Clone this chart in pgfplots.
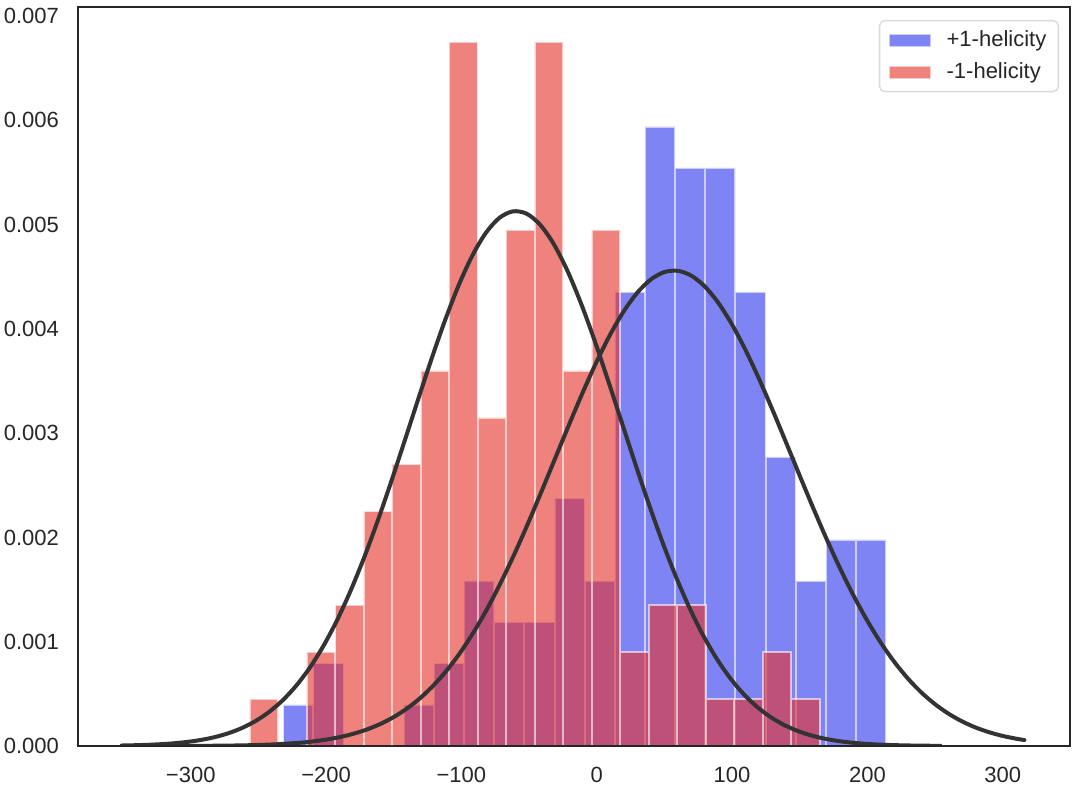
\documentclass[border=0pt]{standalone}
\usepackage{fontspec}
\setmainfont{Liberation Sans}
\usepackage{pgfplots}
\pgfplotsset{compat=1.18}
\definecolor{txt}{RGB}{38,38,38}
\definecolor{bluebar}{RGB}{0,10,235}
\definecolor{redbar}{RGB}{230,47,38}
\definecolor{fitc}{RGB}{51,51,51}
\definecolor{legbord}{RGB}{218,218,218}
\pgfplotsset{patchlegend/.style={legend image code/.code={\draw[#1, sharp corners] (0pt,-3.2pt) rectangle (21pt,3.2pt); \path (26.5pt,0pt);}}}
\begin{document}
\begin{tikzpicture}
\begin{axis}[name=ax, scale only axis, width=496pt, height=369.5pt,
  xmin=-383.3, xmax=349.7, ymin=0, ymax=0.0070875,
  axis line style={txt, line width=1.25pt},
  xtick={-300,-200,-100,0,100,200,300},
  xticklabels={−300,−200,−100,0,100,200,300},
  ytick={0,0.001,0.002,0.003,0.004,0.005,0.006,0.007},
  scaled y ticks=false,
  yticklabel style={/pgf/number format/fixed, /pgf/number format/fixed zerofill, /pgf/number format/precision=3, xshift=-6pt},
  xticklabel style={yshift=-7pt},
  major tick length=0pt,
  tick label style={font=\fontsize{11}{13}\selectfont, text=txt},
  /pgf/number format/assume math mode=true,
  axis on top,
  legend cell align=left,
  legend style={at={(1,1)}, anchor=north east, xshift=-5.5pt, yshift=-6.5pt,
    draw=legbord, line width=0.7pt, rounded corners=2.5pt, fill=white,
    font=\fontsize{11}{13}\selectfont, text=txt, inner xsep=4pt, inner ysep=3pt,
    row sep=2.5pt},
  patchlegend,
]
\addplot[ybar interval, fill=bluebar, fill opacity=0.5, draw=white, draw opacity=0.6, line width=1pt]
coordinates {
(-231.6,0.000396) (-209.3,0.000792) (-187.1,0) (-164.8,0) (-142.5,0.000396)
(-120.3,0.000792) (-98.0,0.001584) (-75.7,0.001188) (-53.4,0.001188) (-31.2,0.002376)
(-8.9,0.001584) (13.4,0.004356) (35.6,0.005940) (57.9,0.005544) (80.2,0.005544)
(102.5,0.004356) (124.7,0.002772) (147.0,0.001584) (169.3,0.001980) (191.5,0.001980)
(213.8,0)
};
\addlegendentry{+1-helicity}
\addplot[ybar interval, fill=redbar, fill opacity=0.6, draw=white, draw opacity=0.6, line width=1pt]
coordinates {
(-256.4,0.00045) (-235.3,0) (-214.3,0.00090) (-193.2,0.00135) (-172.2,0.00225)
(-151.1,0.00270) (-130.1,0.00360) (-109.0,0.00675) (-88.0,0.00315) (-66.9,0.00495)
(-45.9,0.00675) (-24.8,0.00360) (-3.7,0.00495) (17.3,0.00090) (38.4,0.00135)
(59.4,0.00135) (80.5,0.00045) (101.5,0.00045) (122.6,0.00090) (143.6,0.00045)
(164.7,0)
};
\addlegendentry{-1-helicity}
\addplot[fitc, line width=2pt, smooth, no markers, line join=round, line cap=round] coordinates {
(-334,2.1e-7) (-320,4.25e-7) (-300,1.11e-6) (-280,2.74e-6) (-260,6.43e-6) (-240,1.436e-5)
(-220,3.04e-5) (-210,4.34e-5) (-200,6.11e-5) (-190,8.48e-5) (-180,1.164e-4) (-170,1.576e-4)
(-160,2.106e-4) (-150,2.778e-4) (-140,3.616e-4) (-130,4.646e-4) (-120,5.894e-4) (-110,7.379e-4)
(-100,9.119e-4) (-90,1.1120e-3) (-80,1.3386e-3) (-70,1.5904e-3) (-60,1.8651e-3) (-50,2.1589e-3)
(-40,2.4666e-3) (-30,2.7816e-3) (-20,3.0961e-3) (-10,3.4013e-3) (0,3.6880e-3) (10,3.9474e-3)
(20,4.1700e-3) (30,4.3480e-3) (40,4.4747e-3) (50,4.5454e-3) (60,4.5573e-3) (70,4.5100e-3)
(80,4.4051e-3) (90,4.2470e-3) (100,4.0413e-3) (110,3.7957e-3) (120,3.5189e-3) (130,3.2197e-3)
(140,2.9078e-3) (150,2.5921e-3) (160,2.2807e-3) (170,1.9807e-3) (180,1.6978e-3) (190,1.4363e-3)
(200,1.1995e-3) (210,9.886e-4) (220,8.043e-4) (230,6.458e-4) (240,5.118e-4) (250,4.004e-4)
(260,3.092e-4) (270,2.356e-4) (280,1.772e-4) (290,1.316e-4) (300,9.64e-5) (310,6.98e-5) (316,5.71e-5)
};
\addplot[fitc, line width=2pt, smooth, no markers, line join=round, line cap=round] coordinates {
(-351,4.6e-6) (-344,6.40e-6) (-332,1.113e-5) (-322,1.732e-5) (-312,2.649e-5) (-302,3.985e-5)
(-292,5.90e-5) (-282,8.59e-5) (-272,1.231e-4) (-262,1.734e-4) (-252,2.403e-4) (-242,3.276e-4)
(-232,4.392e-4) (-222,5.791e-4) (-212,7.513e-4) (-202,9.586e-4) (-192,1.2031e-3) (-182,1.4852e-3)
(-172,1.8034e-3) (-162,2.1537e-3) (-152,2.5303e-3) (-142,2.9239e-3) (-132,3.3231e-3) (-122,3.7151e-3)
(-112,4.0854e-3) (-102,4.4190e-3) (-92,4.7014e-3) (-82,4.9199e-3) (-72,5.0642e-3) (-62,5.1273e-3)
(-52,5.1062e-3) (-42,5.0018e-3) (-32,4.8193e-3) (-22,4.5674e-3) (-12,4.2577e-3) (-2,3.9038e-3)
(8,3.5209e-3) (18,3.1236e-3) (28,2.7255e-3) (38,2.3393e-3) (48,1.9748e-3) (58,1.6400e-3)
(68,1.3394e-3) (78,1.0761e-3) (88,8.504e-4) (98,6.610e-4) (108,5.054e-4) (118,3.801e-4)
(128,2.812e-4) (138,2.046e-4) (148,1.464e-4) (158,1.030e-4) (168,7.13e-5) (178,4.86e-5)
(188,3.26e-5) (198,2.14e-5) (208,1.39e-5) (218,8.9e-6) (228,5.6e-6) (238,3.4e-6) (248,2.1e-6) (254,1.6e-6)
};
\end{axis}
\pgfresetboundingbox
\path[use as bounding box] ([shift={(-39pt,-22pt)}]ax.south west) rectangle ([shift={(3pt,3.5pt)}]ax.north east);
\end{tikzpicture}
\end{document}
